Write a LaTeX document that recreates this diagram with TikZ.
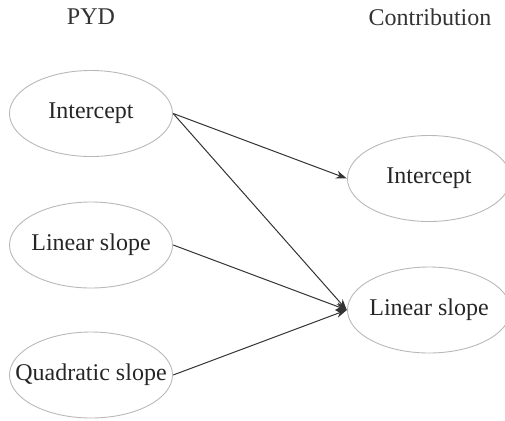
\documentclass[tikz,border=0pt]{standalone}
\usepackage{fontspec}
\setmainfont{Liberation Serif}
\usetikzlibrary{arrows.meta}
\begin{document}
\begin{tikzpicture}[x=1pt,y=1pt,
  ell/.style={rectangle,minimum width=164pt,minimum height=87pt,inner sep=0pt,text=black!85,font=\fontsize{24}{28}\selectfont,
    path picture={\draw[black!28,line width=0.9pt] (path picture bounding box.center) ellipse (81.5 and 43);}},
  hdr/.style={text=black!80,font=\fontsize{24}{28}\selectfont,inner sep=0pt},
  arr/.style={draw=black!80,line width=1pt,-{Stealth[length=11pt,width=8pt]}}]
\useasboundingbox (0,0) rectangle (505,-420);
\node[hdr] (h1) at (91,-17) {PYD};
\node[hdr] (h2) at (430,-17) {Contribution};
\node[ell] (li) at (91,-113.5) {Intercept};
\node[ell] (ll) at (91,-245) {Linear slope};
\node[ell] (lq) at (91,-375) {Quadratic slope};
\node[ell] (ri) at (429,-178.5) {Intercept};
\node[ell] (rl) at (429,-310) {Linear slope};
\draw[arr] (li.east) -- (ri.west);
\draw[arr] (li.east) -- (rl.west);
\draw[arr] (ll.east) -- (rl.west);
\draw[arr] (lq.east) -- (rl.west);
\end{tikzpicture}
\end{document}
